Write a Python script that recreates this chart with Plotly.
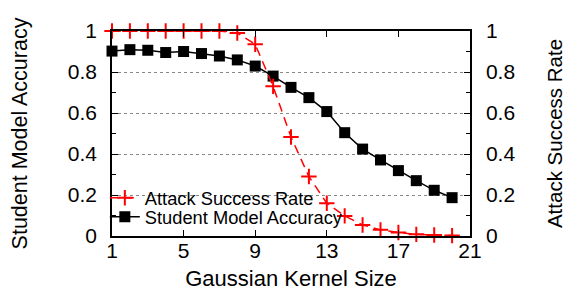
import plotly.graph_objects as go

kernel_sizes = list(range(1, 21))
attack_success_rate = [1.0, 1.0, 1.0, 1.0, 1.0, 1.0, 1.0, 0.99, 0.935, 0.73,
                       0.483, 0.29, 0.16, 0.098, 0.054, 0.03, 0.017, 0.008, 0.005, 0.002]
student_accuracy = [0.902, 0.909, 0.906, 0.895, 0.90, 0.89, 0.878, 0.859, 0.829, 0.78,
                    0.725, 0.675, 0.607, 0.504, 0.424, 0.371, 0.319, 0.27, 0.223, 0.187]
x_ticks = [1, 5, 9, 13, 17, 21]
y_ticks = [0, 0.2, 0.4, 0.6, 0.8, 1]
y_tick_text = ["0", "0.2", "0.4", "0.6", "0.8", "1"]

FONT = "Liberation Sans, Arial, sans-serif"
fs_tick = 21
fs_ytitle_left = 21.5
fs_ytitle_right = 20.5
fs_xtitle = 22
fs_leg = 18.3

fig = go.Figure()
fig.add_trace(go.Scatter(
    x=kernel_sizes, y=attack_success_rate, name="Attack Success Rate",
    mode="lines+markers", yaxis="y2", cliponaxis=False, legend="legend",
    line=dict(color="#ff0000", width=1.5, dash="9px,6px"),
    marker=dict(symbol="cross-thin", size=11, color="#ff0000",
                line=dict(color="#ff0000", width=2)),
))
fig.add_trace(go.Scatter(
    x=kernel_sizes, y=student_accuracy, name="Student Model Accuracy",
    mode="lines+markers", cliponaxis=False, legend="legend2",
    line=dict(color="#000000", width=1.5),
    marker=dict(symbol="square", size=11, color="#000000"),
))

axis_common = dict(
    range=[0, 1], tickvals=y_ticks, ticktext=y_tick_text,
    ticks="inside", ticklen=6, tickcolor="black", tickwidth=1,
    showline=True, linecolor="black", linewidth=1.5,
    tickfont=dict(family=FONT, size=fs_tick, color="black"),
    zeroline=False, automargin=False,
    minor=dict(ticks="inside", ticklen=4, dtick=0.1, tickcolor="black", showgrid=False),
)

leg_common = dict(xanchor="left", yanchor="middle", bgcolor="rgba(0,0,0,0)",
                  font=dict(family=FONT, size=fs_leg, color="black"),
                  itemwidth=30, borderwidth=0)

fig.update_layout(
    width=577, height=295,
    margin=dict(l=104, r=115, t=23, b=67),
    paper_bgcolor="white", plot_bgcolor="white",
    font=dict(family=FONT, size=fs_tick, color="black"),
    showlegend=True,
    legend=dict(x=-0.02, y=0.186, **leg_common),
    legend2=dict(x=-0.02, y=0.094, **leg_common),
    xaxis=dict(
        range=[1, 21], tickvals=x_ticks,
        ticks="inside", ticklen=6, tickcolor="black",
        showline=True, linecolor="black", linewidth=1.5, mirror="ticks",
        showgrid=False, zeroline=False, automargin=False,
        ticklabelstandoff=-5,
        tickfont=dict(family=FONT, size=fs_tick, color="black"),
        title=dict(text="Gaussian Kernel Size", font=dict(size=fs_xtitle), standoff=10),
    ),
    yaxis=dict(
        **axis_common,
        ticklabelstandoff=9,
        showgrid=True, gridcolor="#888888", griddash="dot", gridwidth=1,
        title=dict(text="Student Model Accuracy", font=dict(size=fs_ytitle_left), standoff=40),
    ),
    yaxis2=dict(
        **axis_common,
        ticklabelstandoff=10,
        overlaying="y", side="right", showgrid=False,
        title=dict(text="Attack Success Rate", font=dict(size=fs_ytitle_right), standoff=33),
    ),
)

fig.write_html("out.html")
